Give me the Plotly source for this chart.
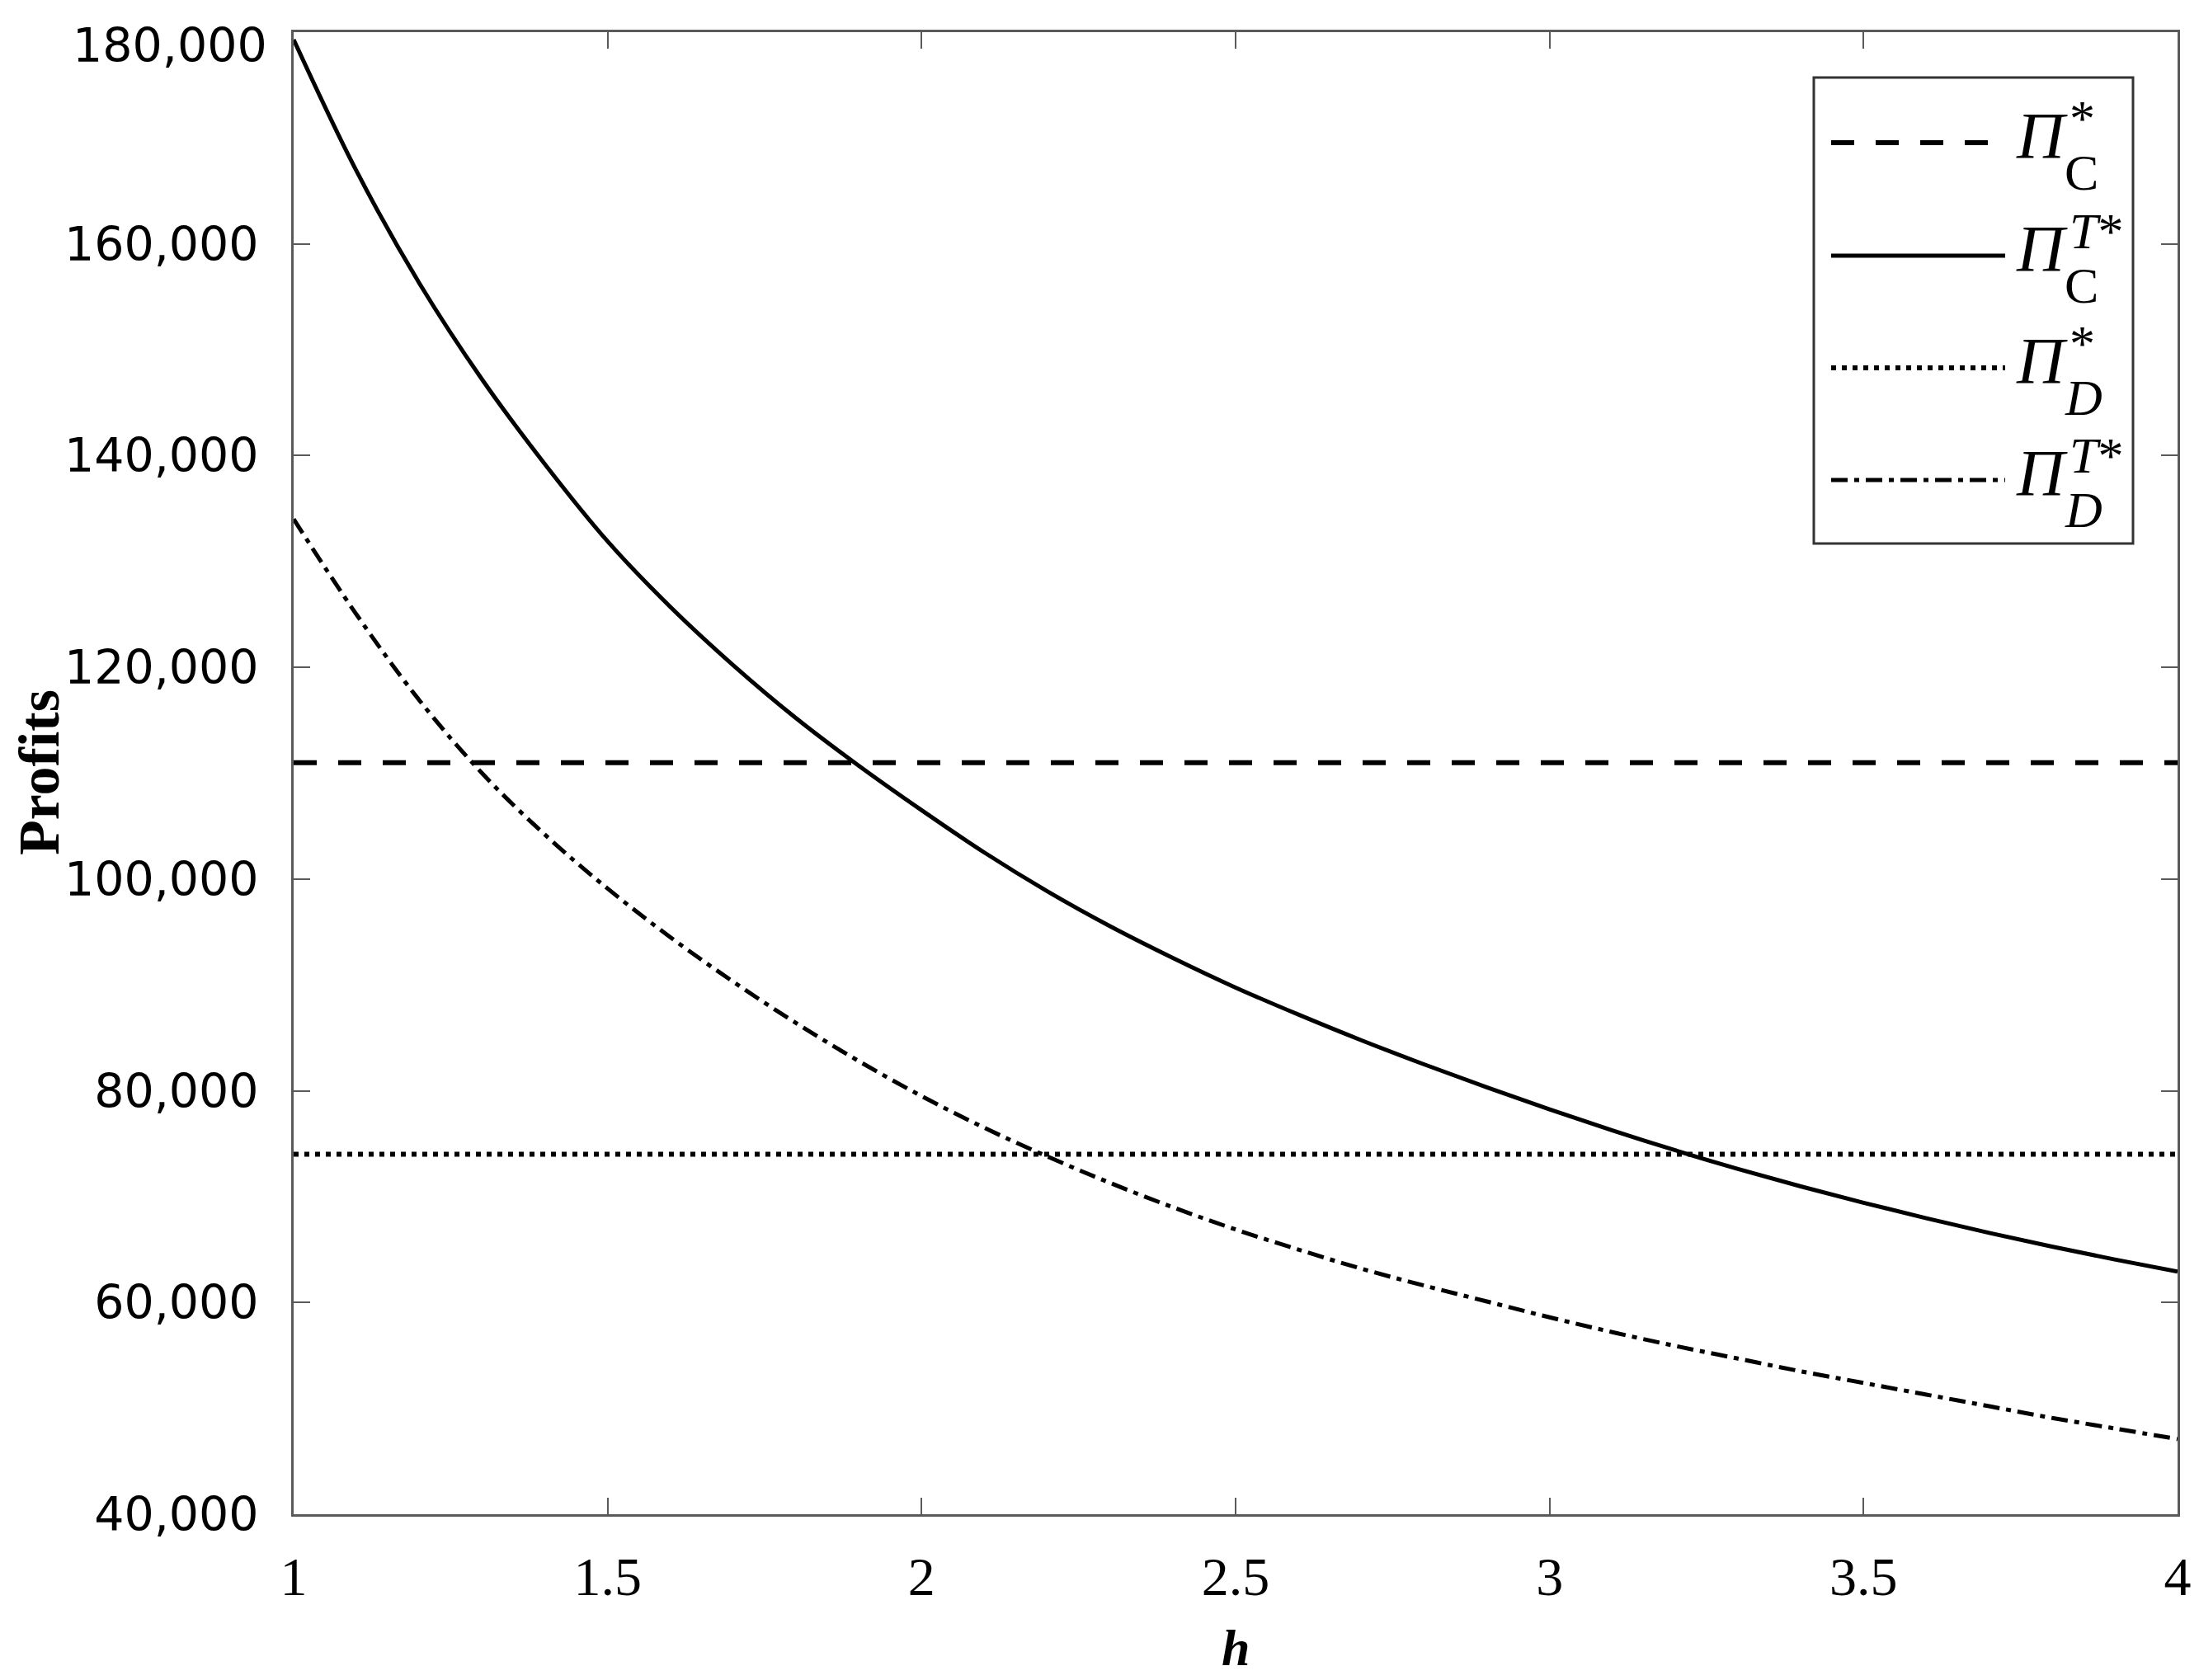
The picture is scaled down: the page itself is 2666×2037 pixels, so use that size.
import plotly.graph_objects as go

# ---------------- data ----------------
h = [1.0, 1.1, 1.2, 1.3, 1.4, 1.5, 1.6, 1.7, 1.8, 1.9, 2.0,
     2.1, 2.2, 2.3, 2.4, 2.5, 2.6, 2.7, 2.8, 2.9, 3.0,
     3.1, 3.2, 3.3, 3.4, 3.5, 3.6, 3.7, 3.8, 3.9, 4.0]

pi_c_t = [179300, 166900, 156300, 147200, 139200, 131900, 125700, 120200, 115200, 110700, 106500,
          102500, 98850, 95550, 92550, 89750, 87200, 84780, 82500, 80330, 78250,
          76260, 74380, 72620, 70970, 69420, 67960, 66580, 65280, 64060, 62920]

pi_d_t = [134000, 125000, 116900, 110000, 104200, 99100, 94500, 90300, 86400, 82800, 79500,
          76500, 73800, 71300, 69000, 66900, 65000, 63200, 61600, 60100, 58600,
          57200, 55900, 54700, 53500, 52400, 51300, 50200, 49100, 48100, 47100]

pi_c_star = 111000
pi_d_star = 74000

x_tick_vals = [1, 1.5, 2, 2.5, 3, 3.5, 4]
x_tick_text = ["1", "1.5", "2", "2.5", "3", "3.5", "4"]
y_tick_vals = [40000, 60000, 80000, 100000, 120000, 140000, 160000, 180000]
y_tick_text = ["40,000", "60,000", "80,000", "100,000", "120,000", "140,000", "160,000", "180,000"]
x_title = "<b><i>h</i></b>"
y_title = "<b>Profits</b>"

# ---------------- layout geometry ----------------
W, H = 2666, 2037
L, R, T, B = 348, 2632, 31, 1828


def px(xp):
    return (xp - L) / (R - L)


def py(yp):
    return (B - yp) / (B - T)


DASH_C = "28px,26px"
DOT_D = "6px,7px"
DASHDOT_D = "20px,8px,6px,8px"

fig = go.Figure()
fig.add_trace(go.Scatter(x=[h[0], h[-1]], y=[pi_c_star, pi_c_star], mode="lines",
                         name="Π*_C", showlegend=False,
                         line=dict(color="black", width=6, dash=DASH_C)))
fig.add_trace(go.Scatter(x=h, y=pi_c_t, mode="lines", name="Π^T*_C", showlegend=False,
                         line=dict(color="black", width=5, shape="spline")))
fig.add_trace(go.Scatter(x=[h[0], h[-1]], y=[pi_d_star, pi_d_star], mode="lines",
                         name="Π*_D", showlegend=False,
                         line=dict(color="black", width=6, dash=DOT_D)))
fig.add_trace(go.Scatter(x=h, y=pi_d_t, mode="lines", name="Π^T*_D", showlegend=False,
                         line=dict(color="black", width=5, dash=DASHDOT_D, shape="spline")))

# the top label sits slightly lower in the reference (kept inside the page)
y_tick_text_axis = [t if v != max(y_tick_vals) else "" for v, t in zip(y_tick_vals, y_tick_text)]

YFONT = dict(family="DejaVu Sans", size=57, color="black")

axis_color = "#5a5a5a"
fig.update_xaxes(range=[1, 4], tickvals=x_tick_vals, ticktext=x_tick_text,
                 showline=True, linecolor=axis_color, linewidth=3, mirror="ticks",
                 ticks="inside", ticklen=20, tickwidth=2, tickcolor=axis_color,
                 showgrid=False, zeroline=False, automargin=False,
                 tickfont=dict(family="Liberation Serif", size=66, color="black"),
                 ticklabelstandoff=16, ticklabeloverflow="allow")
fig.update_yaxes(range=[40000, 180000], tickvals=y_tick_vals, ticktext=y_tick_text_axis,
                 showline=True, linecolor=axis_color, linewidth=3, mirror="ticks",
                 ticks="inside", ticklen=20, tickwidth=2, tickcolor=axis_color,
                 showgrid=False, zeroline=False, automargin=False,
                 tickfont=YFONT,
                 ticklabelstandoff=28, ticklabeloverflow="allow")

annotations = [
    dict(xref="paper", yref="paper", x=px(318), y=py(47), xanchor="right", yanchor="middle",
         showarrow=False, text=y_tick_text[-1], font=YFONT),
    dict(xref="paper", yref="paper", x=px(40), y=py(929), xanchor="center", yanchor="middle",
         showarrow=False, textangle=-90, text=y_title,
         font=dict(family="Liberation Serif", size=70, color="black")),
    dict(xref="paper", yref="paper", x=px(1490), y=py(1990), xanchor="center", yanchor="middle",
         showarrow=False, text=x_title,
         font=dict(family="Liberation Serif", size=62, color="black")),
]

# ---------------- manual legend ----------------
shapes = [dict(type="rect", xref="paper", yref="paper",
               x0=px(2191), x1=px(2578), y0=py(651), y1=py(86),
               line=dict(color="#333333", width=3), fillcolor="white", layer="above")]
legend_rows = [
    (165, DASH_C, 6, "*", "C"),
    (302, None, 5, "<i>T</i>*", "C"),
    (438, DOT_D, 6, "*", "<i>D</i>"),
    (574, DASHDOT_D, 5, "<i>T</i>*", "<i>D</i>"),
]
for yl, dash, lw, sup, sub in legend_rows:
    ln = dict(color="black", width=lw)
    if dash:
        ln["dash"] = dash
    shapes.append(dict(type="line", xref="paper", yref="paper",
                       x0=px(2212), x1=px(2423), y0=py(yl), y1=py(yl),
                       line=ln, layer="above"))
    annotations.append(dict(xref="paper", yref="paper", x=px(2434), y=py(yl - 8),
                            xanchor="left", yanchor="middle", showarrow=False,
                            text="<i>Π</i>",
                            font=dict(family="Liberation Serif", size=80, color="black")))
    annotations.append(dict(xref="paper", yref="paper", x=px(2499), y=py(yl - 30),
                            xanchor="left", yanchor="middle", showarrow=False,
                            text=sup,
                            font=dict(family="Liberation Serif", size=62, color="black")))
    annotations.append(dict(xref="paper", yref="paper", x=px(2493), y=py(yl + 36),
                            xanchor="left", yanchor="middle", showarrow=False,
                            text=sub,
                            font=dict(family="Liberation Serif", size=62, color="black")))

fig.update_layout(width=W, height=H,
                  margin=dict(l=L, r=W - R, t=T, b=H - B, pad=0, autoexpand=False),
                  paper_bgcolor="white", plot_bgcolor="white",
                  shapes=shapes, annotations=annotations, showlegend=False)

fig.write_html("out.html")
